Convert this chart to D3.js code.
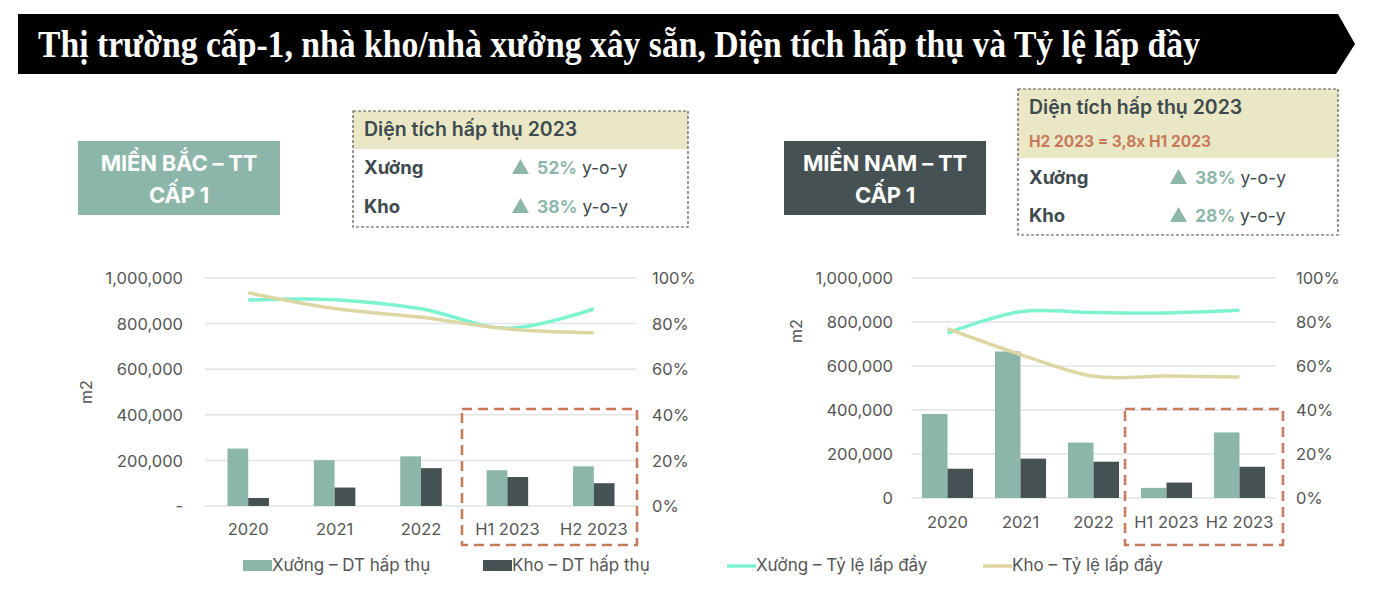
<!DOCTYPE html>
<html><head><meta charset="utf-8">
<script src="https://cdn.jsdelivr.net/npm/d3@7"></script>
<style>
html,body{margin:0;padding:0;background:#fff;}
svg{display:block;font-family:Inter,"Liberation Sans",Arial,sans-serif;}
</style></head>
<body><svg id="c" width="1382" height="596"></svg>
<script>
const categories = ["2020","2021","2022","H1 2023","H2 2023"];
const northXuongArea = [252000, 201000, 218000, 157000, 174000];
const northKhoArea   = [35000, 81000, 166000, 127000, 100000];
const northXuongOcc  = [0.903, 0.905, 0.865, 0.78, 0.864];
const northKhoOcc    = [0.935, 0.866, 0.828, 0.777, 0.76];
const southXuongArea = [382000, 666000, 252000, 46000, 298000];
const southKhoArea   = [133000, 179000, 165000, 70000, 142000];
const southXuongOcc  = [0.75, 0.847, 0.843, 0.841, 0.853];
const southKhoOcc    = [0.77, 0.652, 0.553, 0.554, 0.55];
const leftTicks = [0, 200000, 400000, 600000, 800000, 1000000];
const rightTicks = [0, 0.2, 0.4, 0.6, 0.8, 1.0];
const seriesNames = ["Xưởng – DT hấp thụ","Kho – DT hấp thụ","Xưởng – Tỷ lệ lấp đầy","Kho – Tỷ lệ lấp đầy"];
const titleText = "Thị trường cấp-1, nhà kho/nhà xưởng xây sẵn, Diện tích hấp thụ và Tỷ lệ lấp đầy";

const C = {xuong:"#8DB6AA", kho:"#465154", xuongLine:"#7DF3D2", khoLine:"#DDD6A3",
  grid:"#E1E4E4", text:"#555555", dark:"#3E4A4D", orange:"#C8795A", header:"#EAE7C6"};
const SANS = "Inter,'Liberation Sans',sans-serif";

const svg = d3.select("#c");

svg.append("path").attr("d","M18,14 L1338,14 L1355,44 L1336,74 L18,74 Z").attr("fill","#000");
svg.append("text").attr("x",38).attr("y",57).attr("fill","#fff")
  .attr("font-family","'Liberation Serif','Times New Roman',serif").attr("font-weight","bold")
  .attr("font-size",38).attr("textLength",1162).attr("lengthAdjust","spacingAndGlyphs")
  .text(titleText);

function drawChart(o){
  const g = svg.append("g");
  const x0 = d3.scaleBand().domain(categories).range([o.x1,o.x2]).paddingInner(o.pad).paddingOuter(o.pad/2);
  const x1 = d3.scaleBand().domain(["x","k"]).range([0,x0.bandwidth()]);
  const y = d3.scaleLinear().domain([0,1000000]).range([o.y0,o.y1]);
  const y2 = d3.scaleLinear().domain([0,1]).range([o.y0,o.y1]);
  g.selectAll(".gl").data(leftTicks).join("line")
    .attr("x1",o.x1).attr("x2",o.x2).attr("y1",d=>y(d)).attr("y2",d=>y(d))
    .attr("stroke",C.grid).attr("stroke-width",1.5);
  const la = d3.axisLeft(y).tickValues(leftTicks).tickSize(0).tickPadding(0)
    .tickFormat(d=> d===0 ? o.zero : d3.format(",")(d));
  const lg = g.append("g").attr("transform",`translate(${o.lx},0)`).call(la);
  lg.select(".domain").remove();
  lg.selectAll("text").attr("font-size",16.5).attr("fill",C.text).attr("font-family",SANS).attr("dy","0.35em");
  const ra = d3.axisRight(y2).tickValues(rightTicks).tickSize(0).tickPadding(0).tickFormat(d3.format(".0%"));
  const rg = g.append("g").attr("transform",`translate(${o.rx},0)`).call(ra);
  rg.select(".domain").remove();
  rg.selectAll("text").attr("font-size",16.5).attr("fill",C.text).attr("font-family",SANS).attr("dy","0.35em");
  const ba = d3.axisBottom(x0).tickSize(0).tickPadding(0);
  const bg = g.append("g").attr("transform",`translate(0,${o.labY})`).call(ba);
  bg.select(".domain").remove();
  bg.selectAll("text").attr("font-size",16.5).attr("fill",C.text).attr("font-family",SANS).attr("dy","0");
  g.append("text").attr("transform",`translate(${o.m2x},${o.m2y}) rotate(-90)`).attr("text-anchor","middle")
    .attr("font-size",16).attr("fill",C.text).attr("font-family",SANS).text("m2");
  const data = categories.map((c,i)=>({c, x:o.xa[i], k:o.ka[i]}));
  const grp = g.selectAll(".grp").data(data).join("g").attr("transform",d=>`translate(${x0(d.c)},0)`);
  grp.append("rect").attr("x",x1("x")).attr("width",x1.bandwidth()).attr("y",d=>y(d.x)).attr("height",d=>y(0)-y(d.x)).attr("fill",C.xuong);
  grp.append("rect").attr("x",x1("k")).attr("width",x1.bandwidth()).attr("y",d=>y(d.k)).attr("height",d=>y(0)-y(d.k)).attr("fill",C.kho);
  const line = d3.line().x((d,i)=>x0(categories[i])+x0.bandwidth()/2).y(d=>y2(d)).curve(d3.curveCardinal.tension(0));
  g.append("path").attr("d",line(o.xo)).attr("fill","none").attr("stroke",C.xuongLine).attr("stroke-width",3.5);
  g.append("path").attr("d",line(o.ko)).attr("fill","none").attr("stroke",C.khoLine).attr("stroke-width",3.5);
  g.append("rect").attr("x",o.box[0]).attr("y",o.box[1]).attr("width",o.box[2]).attr("height",o.box[3])
    .attr("fill","none").attr("stroke",C.orange).attr("stroke-width",2.5).attr("stroke-dasharray","10,6");
}

drawChart({x1:205,x2:637,pad:0.52,y0:506,y1:278,lx:183,rx:652,labY:535,m2x:92,m2y:392,zero:"-",
  xa:northXuongArea,ka:northKhoArea,xo:northXuongOcc,ko:northKhoOcc,box:[462,409,175,136]});
drawChart({x1:911,x2:1276,pad:0.3,y0:498,y1:278,lx:893,rx:1296,labY:528,m2x:802,m2y:331,zero:"0",
  xa:southXuongArea,ka:southKhoArea,xo:southXuongOcc,ko:southKhoOcc,box:[1125,409,158,136]});

function regionBox(x,y,w,h,fill,lines){
  svg.append("rect").attr("x",x).attr("y",y).attr("width",w).attr("height",h).attr("fill",fill);
  lines.forEach((t,i)=>svg.append("text").attr("x",x+w/2).attr("y",y+30+i*32).attr("text-anchor","middle")
    .attr("fill","#fff").attr("font-weight","bold").attr("font-size",22).attr("letter-spacing","-0.2").attr("font-family",SANS).text(t));
}
regionBox(78,141,202,74,C.xuong,["MIỀN BẮC – TT","CẤP 1"]);
regionBox(784,141,202,74,C.kho,["MIỀN NAM – TT","CẤP 1"]);

function infoBox(x,y,w,h,hh,note,rows,triX,rowY){
  svg.append("rect").attr("x",x).attr("y",y).attr("width",w).attr("height",hh).attr("fill",C.header);
  svg.append("rect").attr("x",x).attr("y",y).attr("width",w).attr("height",h).attr("fill","none")
    .attr("stroke","#555").attr("stroke-width",1.2).attr("stroke-dasharray","3,2");
  svg.append("text").attr("x",x+11).attr("y",y+25).attr("font-weight","600").attr("font-size",19.5).attr("fill",C.dark).text("Diện tích hấp thụ 2023");
  if(note) svg.append("text").attr("x",x+11).attr("y",y+58).attr("font-weight","bold").attr("font-size",15.5).attr("fill",C.orange).text(note);
  rows.forEach((r,i)=>{
    const by = rowY[i];
    svg.append("text").attr("x",x+11).attr("y",by).attr("font-weight","bold").attr("font-size",18.5).attr("fill",C.dark).text(r[0]);
    svg.append("path").attr("d",`M${triX},${by} l8.5,-15 l8.5,15 Z`).attr("fill",C.xuong);
    const t = svg.append("text").attr("x",triX+25).attr("y",by).attr("font-size",17.5);
    t.append("tspan").attr("font-weight","bold").attr("fill",C.xuong).text(r[1]);
    t.append("tspan").attr("fill",C.dark).text(" y-o-y");
  });
}
infoBox(353,111,335,116,38,null,[["Xưởng","52%"],["Kho","38%"]],512,[174,213]);
infoBox(1018,89,320,146,69,"H2 2023 = 3,8x H1 2023",[["Xưởng","38%"],["Kho","28%"]],1170,[184,222]);

const legX = [243,483,727,983];
const lgd = svg.append("g");
seriesNames.forEach((n,i)=>{
  if(i<2) lgd.append("rect").attr("x",legX[i]).attr("y",560).attr("width",29).attr("height",11).attr("fill",i===0?C.xuong:C.kho);
  else lgd.append("line").attr("x1",legX[i]).attr("x2",legX[i]+29).attr("y1",566).attr("y2",566).attr("stroke",i===2?C.xuongLine:C.khoLine).attr("stroke-width",3.5);
  lgd.append("text").attr("x",legX[i]+29).attr("y",571).attr("font-size",17).attr("fill",C.text)
    .attr("font-family",SANS).text(n);
});
</script></body></html>
